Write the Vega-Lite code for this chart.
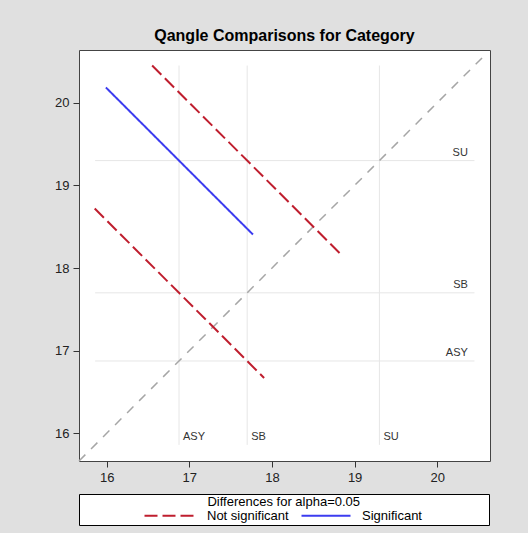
{
  "$schema": "https://vega.github.io/schema/vega-lite/v6.json",
  "width": 411,
  "height": 411,
  "autosize": {"type": "none"},
  "padding": {"left": 79, "top": 50, "right": 38, "bottom": 72},
  "background": "#e0e0e0",
  "title": {"text": "Qangle Comparisons for Category", "fontSize": 16, "fontWeight": "bold", "font": "Liberation Sans", "color": "#000000", "offset": 6, "anchor": "middle"},
  "config": {
    "view": {"fill": "#ffffff", "stroke": "#444444", "strokeWidth": 1},
    "axis": {"grid": false, "domain": false, "labelFont": "Liberation Sans", "labelFontSize": 13, "labelColor": "#222222", "tickColor": "#333333", "tickSize": 6, "labelPadding": 4, "title": null, "format": "d"},
    "legend": {"labelFont": "Liberation Sans", "titleFont": "Liberation Sans"}
  },
  "datasets": {
    "segs": [
      {"pair": "ASY-SU", "sig": "Significant", "x": 15.99, "y": 20.185},
      {"pair": "ASY-SU", "sig": "Significant", "x": 17.77, "y": 18.405},
      {"pair": "SB-SU", "sig": "Not significant", "x": 16.55, "y": 20.45},
      {"pair": "SB-SU", "sig": "Not significant", "x": 18.85, "y": 18.15},
      {"pair": "ASY-SB", "sig": "Not significant", "x": 15.855, "y": 18.72},
      {"pair": "ASY-SB", "sig": "Not significant", "x": 17.905, "y": 16.67}
    ],
    "means": [
      {"cat": "ASY", "mean": 16.875, "lo": 15.86, "hi": 20.45, "lx": 20.37, "ly": 15.915},
      {"cat": "SB", "mean": 17.70, "lo": 15.86, "hi": 20.45, "lx": 20.37, "ly": 15.915},
      {"cat": "SU", "mean": 19.30, "lo": 15.86, "hi": 20.45, "lx": 20.37, "ly": 15.915}
    ],
    "diag": [
      {"d": 15.665},
      {"d": 20.56}
    ]
  },
  "layer": [
    {
      "data": {"name": "means"},
      "mark": {"type": "rule", "color": "#e6e6e6", "strokeWidth": 1},
      "encoding": {
        "y": {"field": "mean", "type": "quantitative", "scale": {"domain": [15.665, 20.638], "nice": false, "zero": false}, "axis": {"values": [16, 17, 18, 19, 20]}},
        "x": {"field": "lo", "type": "quantitative", "scale": {"domain": [15.665, 20.638], "nice": false, "zero": false}, "axis": {"values": [16, 17, 18, 19, 20]}},
        "x2": {"field": "hi"}
      }
    },
    {
      "data": {"name": "means"},
      "mark": {"type": "rule", "color": "#e6e6e6", "strokeWidth": 1},
      "encoding": {
        "x": {"field": "mean", "type": "quantitative"},
        "y": {"field": "lo", "type": "quantitative"},
        "y2": {"field": "hi"}
      }
    },
    {
      "data": {"name": "diag"},
      "mark": {"type": "line", "color": "#a6a6a6", "strokeWidth": 1.5, "strokeDash": [9, 8]},
      "encoding": {
        "x": {"field": "d", "type": "quantitative"},
        "y": {"field": "d", "type": "quantitative"}
      }
    },
    {
      "data": {"name": "means"},
      "mark": {"type": "text", "font": "Liberation Sans", "fontSize": 11, "color": "#333333", "align": "right", "baseline": "alphabetic", "dy": -5},
      "encoding": {
        "x": {"field": "lx", "type": "quantitative"},
        "y": {"field": "mean", "type": "quantitative"},
        "text": {"field": "cat"}
      }
    },
    {
      "data": {"name": "means"},
      "mark": {"type": "text", "font": "Liberation Sans", "fontSize": 11, "color": "#333333", "align": "left", "baseline": "alphabetic", "dx": 4},
      "encoding": {
        "x": {"field": "mean", "type": "quantitative"},
        "y": {"field": "ly", "type": "quantitative"},
        "text": {"field": "cat"}
      }
    },
    {
      "data": {"name": "segs"},
      "mark": {"type": "line", "strokeWidth": 2},
      "encoding": {
        "x": {"field": "x", "type": "quantitative"},
        "y": {"field": "y", "type": "quantitative"},
        "detail": {"field": "pair"},
        "color": {"field": "sig", "type": "nominal", "title": "\u200b\u00a0\u00a0\u00a0\u00a0\u00a0\u00a0\u00a0\u00a0\u00a0\u00a0\u00a0\u00a0\u00a0\u00a0\u00a0\u00a0\u00a0\u00a0\u00a0\u00a0\u00a0\u00a0\u00a0\u00a0\u00a0\u00a0\u00a0\u00a0\u00a0\u00a0\u00a0\u00a0\u00a0\u00a0\u00a0Differences for alpha=0.05\u00a0\u00a0\u00a0\u00a0\u00a0\u00a0\u00a0\u00a0\u00a0\u00a0\u00a0\u00a0\u00a0\u00a0\u00a0\u00a0\u00a0\u00a0\u00a0\u00a0\u00a0\u00a0\u00a0\u00a0\u00a0\u00a0\u00a0\u00a0\u00a0\u00a0\u00a0\u00a0\u00a0\u00a0\u00a0\u200b",
          "scale": {"domain": ["Not significant", "Significant"], "range": ["#bf1e2e", "#3c3cf0"]},
          "legend": {"orient": "bottom", "direction": "horizontal", "titleAnchor": "start", "titleFontSize": 13, "titleFontWeight": "normal", "titleColor": "#000000", "titlePadding": 0, "titleLimit": 600, "labelFontSize": 13, "labelColor": "#000000", "symbolType": "stroke", "symbolSize": 2401, "symbolStrokeWidth": 2, "clipHeight": 13, "strokeColor": "#000000", "fillColor": "#ffffff", "padding": 2, "offset": 10, "columnPadding": 10,
            "encode": {
              "symbols": {"update": {"x": {"signal": "datum.index === 0 ? 88 : 27"}}},
              "labels": {"update": {"x": {"signal": "datum.index === 0 ? 126 : 63"}}}
            }}},
        "strokeDash": {"field": "sig", "type": "nominal", "title": "\u200b\u00a0\u00a0\u00a0\u00a0\u00a0\u00a0\u00a0\u00a0\u00a0\u00a0\u00a0\u00a0\u00a0\u00a0\u00a0\u00a0\u00a0\u00a0\u00a0\u00a0\u00a0\u00a0\u00a0\u00a0\u00a0\u00a0\u00a0\u00a0\u00a0\u00a0\u00a0\u00a0\u00a0\u00a0\u00a0Differences for alpha=0.05\u00a0\u00a0\u00a0\u00a0\u00a0\u00a0\u00a0\u00a0\u00a0\u00a0\u00a0\u00a0\u00a0\u00a0\u00a0\u00a0\u00a0\u00a0\u00a0\u00a0\u00a0\u00a0\u00a0\u00a0\u00a0\u00a0\u00a0\u00a0\u00a0\u00a0\u00a0\u00a0\u00a0\u00a0\u00a0\u200b",
          "scale": {"domain": ["Not significant", "Significant"], "range": [[13, 5], [1, 0]]}}
      }
    }
  ],
  "resolve": {"legend": {"color": "shared", "strokeDash": "shared"}}
}
